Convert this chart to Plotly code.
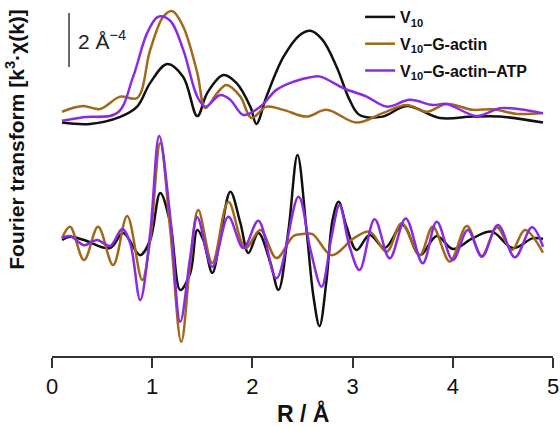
import plotly.graph_objects as go

# ---------------- data (R in Å, values in Å^-4) ----------------
# Magnitude |FT| (top set, plotted with vertical offset)
r_mag_v10 = [0.10, 0.38, 0.68, 0.85, 0.98, 1.15, 1.31, 1.45, 1.55, 1.71, 1.84, 1.98, 2.04, 2.14,
             2.31, 2.48, 2.58, 2.70, 2.84, 2.97, 3.07, 3.30, 3.54, 3.87, 4.20, 4.47, 4.90]
mag_v10 = [0.09, 0.04, 0.30, 0.68, 1.56, 2.26, 1.78, 0.33, 1.19, 1.85, 1.56, 0.67, 0.04, 1.05,
           2.52, 3.35, 3.49, 3.15, 2.16, 0.93, 0.37, 0.31, 0.70, 0.26, 0.31, 0.31, 0.09]

r_mag_ga = [0.10, 0.31, 0.48, 0.68, 0.85, 0.98, 1.11, 1.20, 1.31, 1.45, 1.53, 1.65, 1.74, 1.88,
            1.99, 2.14, 2.31, 2.54, 2.74, 3.04, 3.30, 3.54, 3.74, 3.94, 4.20, 4.40, 4.64, 4.90]
mag_ga = [0.49, 0.70, 0.59, 1.05, 1.00, 2.78, 4.01, 4.22, 3.64, 1.93, 0.63, 1.19, 1.48, 1.05,
          0.26, 0.68, 0.56, 0.31, 0.56, 0.09, 0.44, 0.74, 0.49, 0.78, 0.56, 0.58, 0.41, 0.44]

r_mag_atp = [0.10, 0.31, 0.65, 0.81, 0.95, 1.06, 1.18, 1.31, 1.45, 1.53, 1.68, 1.78, 1.91, 2.08,
             2.24, 2.41, 2.58, 2.68, 2.91, 3.14, 3.34, 3.57, 3.80, 3.94, 4.24, 4.47, 4.67, 4.90]
mag_atp = [0.16, 0.29, 0.44, 1.79, 3.41, 4.01, 3.86, 2.78, 1.05, 0.68, 1.11, 0.93, 0.37, 0.68,
           1.30, 1.60, 1.77, 1.79, 1.36, 1.05, 0.68, 0.93, 0.74, 0.78, 0.33, 0.62, 0.58, 0.43]

# Imaginary part (bottom set)
r_im_v10 = [0.10, 0.18, 0.32, 0.58, 0.71, 0.88, 0.98, 1.08, 1.18, 1.28, 1.38, 1.45, 1.51, 1.60,
            1.69, 1.78, 1.88, 1.96, 2.06, 2.18, 2.26, 2.36, 2.45, 2.54, 2.61, 2.67, 2.74, 2.80,
            2.86, 2.94, 3.04, 3.17, 3.32, 3.50, 3.67, 3.84, 4.00, 4.20, 4.39, 4.60, 4.80, 4.90]
im_v10 = [0.00, 0.12, 0.00, -0.30, 0.26, -0.56, 0.00, 1.74, 0.63, -1.85, -1.22, 0.37, 0.00, -1.22,
          0.37, 1.79, 0.63, -0.48, 0.26, -0.85, -1.85, 0.37, 3.15, 0.37, -2.11, -3.19, -1.48, 0.74,
          1.42, 0.49, -0.37, 0.19, -0.30, 0.56, -0.56, 0.15, -0.33, 0.07, 0.31, -0.30, 0.07, 0.04]

r_im_ga = [0.10, 0.18, 0.32, 0.46, 0.61, 0.75, 0.90, 0.98, 1.08, 1.18, 1.29, 1.38, 1.46, 1.60,
           1.76, 1.93, 2.08, 2.24, 2.41, 2.50, 2.60, 2.79, 3.01, 3.17, 3.34, 3.49, 3.67, 3.80,
           3.97, 4.14, 4.29, 4.44, 4.59, 4.72, 4.90]
im_ga = [0.07, 0.49, -0.74, 0.49, -0.93, 0.89, -1.48, 0.00, 3.59, 0.37, -3.77, -0.85, 1.11, -0.85,
         1.42, -0.30, 0.37, -0.67, 0.15, 0.22, 0.22, -0.56, 0.06, 0.31, -0.43, 0.62, -0.56, 0.49,
         -0.80, 0.52, -0.59, 0.47, -0.37, 0.37, -0.47]

r_im_atp = [0.10, 0.18, 0.32, 0.45, 0.58, 0.70, 0.78, 0.88, 0.98, 1.07, 1.18, 1.28, 1.38, 1.45,
            1.60, 1.76, 1.91, 2.06, 2.24, 2.46, 2.58, 2.69, 2.79, 2.87, 2.97, 3.07, 3.22, 3.37,
            3.53, 3.70, 3.84, 4.00, 4.15, 4.29, 4.45, 4.62, 4.79, 4.90]
im_atp = [0.07, 0.15, -0.19, 0.00, -0.22, 0.41, -0.11, -2.22, 0.26, 3.85, 0.86, -3.03, -0.62, 0.84,
          -0.99, 0.86, -0.30, 0.71, -1.42, 1.60, -0.37, -1.73, 0.12, 1.30, -0.25, -1.11, 0.77, -0.68,
          0.80, -0.86, 0.68, -0.74, 0.37, -0.62, 0.56, -0.64, 0.47, -0.25]

series_names = ["V<sub>10</sub>", "V<sub>10</sub>–G-actin", "V<sub>10</sub>–G-actin–ATP"]
x_ticks = [0, 1, 2, 3, 4, 5]
MAG_OFFSET = 4.26      # vertical offset of the magnitude curves
SCALE_BAR = 2          # scale bar length, Å^-4

# ---------------- styling ----------------
colors = ["#111111", "#A0691A", "#8A2BE2"]
LW = 2.5
FONT = "Liberation Sans, Arial, sans-serif"

fig = go.Figure()
mags = [(r_mag_v10, mag_v10), (r_mag_ga, mag_ga), (r_mag_atp, mag_atp)]
ims = [(r_im_v10, im_v10), (r_im_ga, im_ga), (r_im_atp, im_atp)]

for i in range(3):
    r, m = mags[i]
    fig.add_trace(go.Scatter(x=r, y=[v + MAG_OFFSET for v in m], mode="lines",
                             line=dict(color=colors[i], width=LW, shape="spline", smoothing=1.0),
                             name=series_names[i], legendgroup=f"g{i}", showlegend=True,
                             legendrank=i + 1))
for i in range(3):
    r, v = ims[i]
    fig.add_trace(go.Scatter(x=r, y=v, mode="lines",
                             line=dict(color=colors[i], width=LW, shape="spline", smoothing=1.0),
                             name=series_names[i], legendgroup=f"g{i}", showlegend=False))

# scale bar
sb_x = 0.17
sb_top = 8.41
fig.add_shape(type="line", xref="x", yref="y", x0=sb_x, x1=sb_x, y0=sb_top - SCALE_BAR, y1=sb_top,
              line=dict(color="#444444", width=1.6))
fig.add_annotation(x=sb_x + 0.07, y=sb_top - SCALE_BAR / 2, xref="x", yref="y",
                   text=f"{SCALE_BAR} Å<sup>−4</sup>", showarrow=False, xanchor="left", yanchor="middle",
                   font=dict(family=FONT, size=21, color="#222222"))

# y-axis title
fig.add_annotation(x=-0.074, y=0.61, xref="paper", yref="paper", textangle=-90,
                   text="Fourier transform [k<sup>3</sup>·χ(k)]", showarrow=False,
                   xanchor="center", yanchor="middle",
                   font=dict(family=FONT, size=21, color="#111111", weight="bold"))

# x-axis title
fig.add_annotation(x=0.5, y=0, xref="paper", yref="paper", yshift=-57,
                   text="R / Å", showarrow=False, xanchor="center", yanchor="middle",
                   font=dict(family=FONT, size=23, color="#111111", weight="bold"))

fig.update_layout(
    width=560, height=427,
    margin=dict(l=51.7, r=6.7, t=0, b=71),
    paper_bgcolor="white", plot_bgcolor="white",
    font=dict(family=FONT, color="#111111"),
    legend=dict(x=0.615, y=1.0, xanchor="left", yanchor="top", bgcolor="rgba(0,0,0,0)",
                font=dict(family=FONT, size=16, color="#111111", weight="bold"),
                itemwidth=30, tracegroupgap=3, traceorder="grouped"),
    xaxis=dict(range=[0, 5], tickvals=x_ticks, ticktext=[str(t) for t in x_ticks],
               showline=True, linecolor="#333333", linewidth=1.5, ticks="outside", ticklen=10,
               tickwidth=1.5, tickcolor="#333333", showgrid=False, zeroline=False,
               tickfont=dict(family=FONT, size=22, color="#111111")),
    yaxis=dict(range=[-4.296, 8.889], visible=False, showgrid=False, zeroline=False),
)

fig.write_html("out.html", config={"displayModeBar": False},
               post_script="document.body.style.margin='0';")
